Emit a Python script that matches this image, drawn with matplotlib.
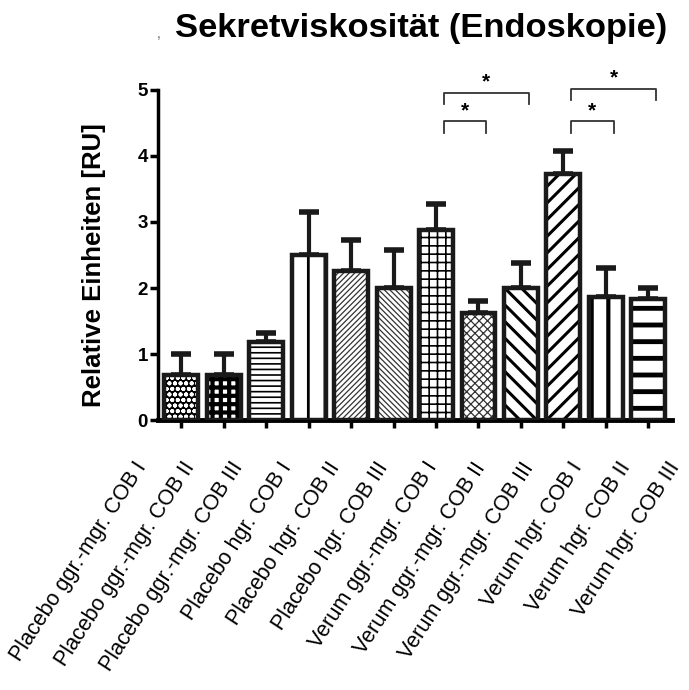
import matplotlib
matplotlib.use('Agg')
import matplotlib.pyplot as plt
import matplotlib.transforms as mtransforms
import numpy as np

plt.rcParams['font.family'] = ['Liberation Sans', 'DejaVu Sans']

labels = ['Placebo ggr.-mgr. COB I', 'Placebo ggr.-mgr. COB II', 'Placebo ggr.-mgr. COB III',
          'Placebo hgr. COB I', 'Placebo hgr. COB II', 'Placebo hgr. COB III',
          'Verum ggr.-mgr. COB I', 'Verum ggr.-mgr. COB II', 'Verum ggr.-mgr. COB III',
          'Verum hgr. COB I', 'Verum hgr. COB II', 'Verum hgr. COB III']
means = [0.68, 0.68, 1.18, 2.50, 2.25, 2.00, 2.87, 1.62, 2.00, 3.72, 1.86, 1.83]
err_up = [0.32, 0.32, 0.14, 0.65, 0.48, 0.58, 0.40, 0.19, 0.38, 0.36, 0.45, 0.17]
# significance brackets: (left bar, right bar, height)
sig = [(6, 7, 4.52), (6, 8, 4.95), (9, 10, 4.52), (9, 11, 5.01)]

# (face, hatch colour, hatch, hatch linewidth)
styles = [('black', 'white', 'ooo', 1.3),
          ('white', 'black', '++', 3.0),
          ('white', 'black', '---', 1.2),
          ('white', 'black', '|', 2.0),
          ('white', '#333333', '//////', 0.9),
          ('white', '#333333', '\\\\\\\\\\\\', 0.9),
          ('white', 'black', '++', 1.2),
          ('white', '#333333', 'xxxx', 0.9),
          ('white', 'black', '\\\\', 2.2),
          ('white', 'black', '//', 2.2),
          ('white', 'black', '|', 3.0),
          ('white', 'black', '-', 3.5)]

fig = plt.figure(figsize=(6.89, 6.90), dpi=100)
ax = fig.add_axes([0.229, 0.391, 0.746, 0.479])

x = np.arange(len(means))
w = 0.8
for i, (fc, hc, h, hlw) in enumerate(styles):
    with plt.rc_context({'hatch.linewidth': hlw, 'hatch.color': hc}):
        ax.bar(x[i], means[i], w, color=fc, edgecolor=hc, hatch=h, linewidth=0, zorder=2)
ax.bar(x, means, w, fill=False, edgecolor='#1a1a1a', linewidth=3.2, zorder=3)
ax.errorbar(x, means, yerr=[np.zeros(len(means)), err_up], fmt='none', ecolor='#1a1a1a',
            elinewidth=3, capsize=7.5, capthick=4, zorder=1)

for a, b, y in sig:
    xa, xb = x[a] + 0.18, x[b] + 0.18
    ax.plot([xa, xa, xb, xb], [y - 0.17, y, y, y - 0.17], color='#333333', lw=1.3, clip_on=False)
    ax.text((xa + xb) / 2, y + 0.02, '*', ha='center', va='bottom', fontsize=15,
            fontweight='bold', clip_on=False)

ax.set_xlim(-0.55, 11.55)
ax.set_ylim(0, 5)
ax.set_yticks(range(6))
ax.set_xticks(x)
ax.set_xticklabels([])
# category labels fan out a little wider than the bars
base = mtransforms.blended_transform_factory(ax.transData, ax.transAxes)
for i, lab in enumerate(labels):
    shift = mtransforms.ScaledTranslation((-48 + 6 * i) / 100, -0.38, fig.dpi_scale_trans)
    ax.text(x[i], 0, lab, transform=base + shift, rotation=57, ha='right', va='top',
            rotation_mode='anchor', fontsize=15.5)
for t in ax.get_yticklabels():
    t.set_fontweight('bold')
    t.set_fontsize(13.5)
ax.tick_params(axis='y', width=2.5, length=6, pad=1)
ax.tick_params(axis='x', width=2.5, length=6)
for s in ['top', 'right']:
    ax.spines[s].set_visible(False)
ax.spines['left'].set_linewidth(2.5)
ax.spines['bottom'].set_linewidth(3.5)
ax.set_ylabel('Relative Einheiten [RU]', fontsize=18.5, fontweight='bold')
ax.yaxis.set_label_coords(-0.1, 0.47)

fig.text(0.611, 0.958, 'Sekretviskosität (Endoskopie)', ha='center', va='center',
         fontsize=24.8, fontweight='bold')
fig.text(0.228, 0.945, ',', fontsize=10, color='#666666')

fig.savefig('out.png', dpi=100)
